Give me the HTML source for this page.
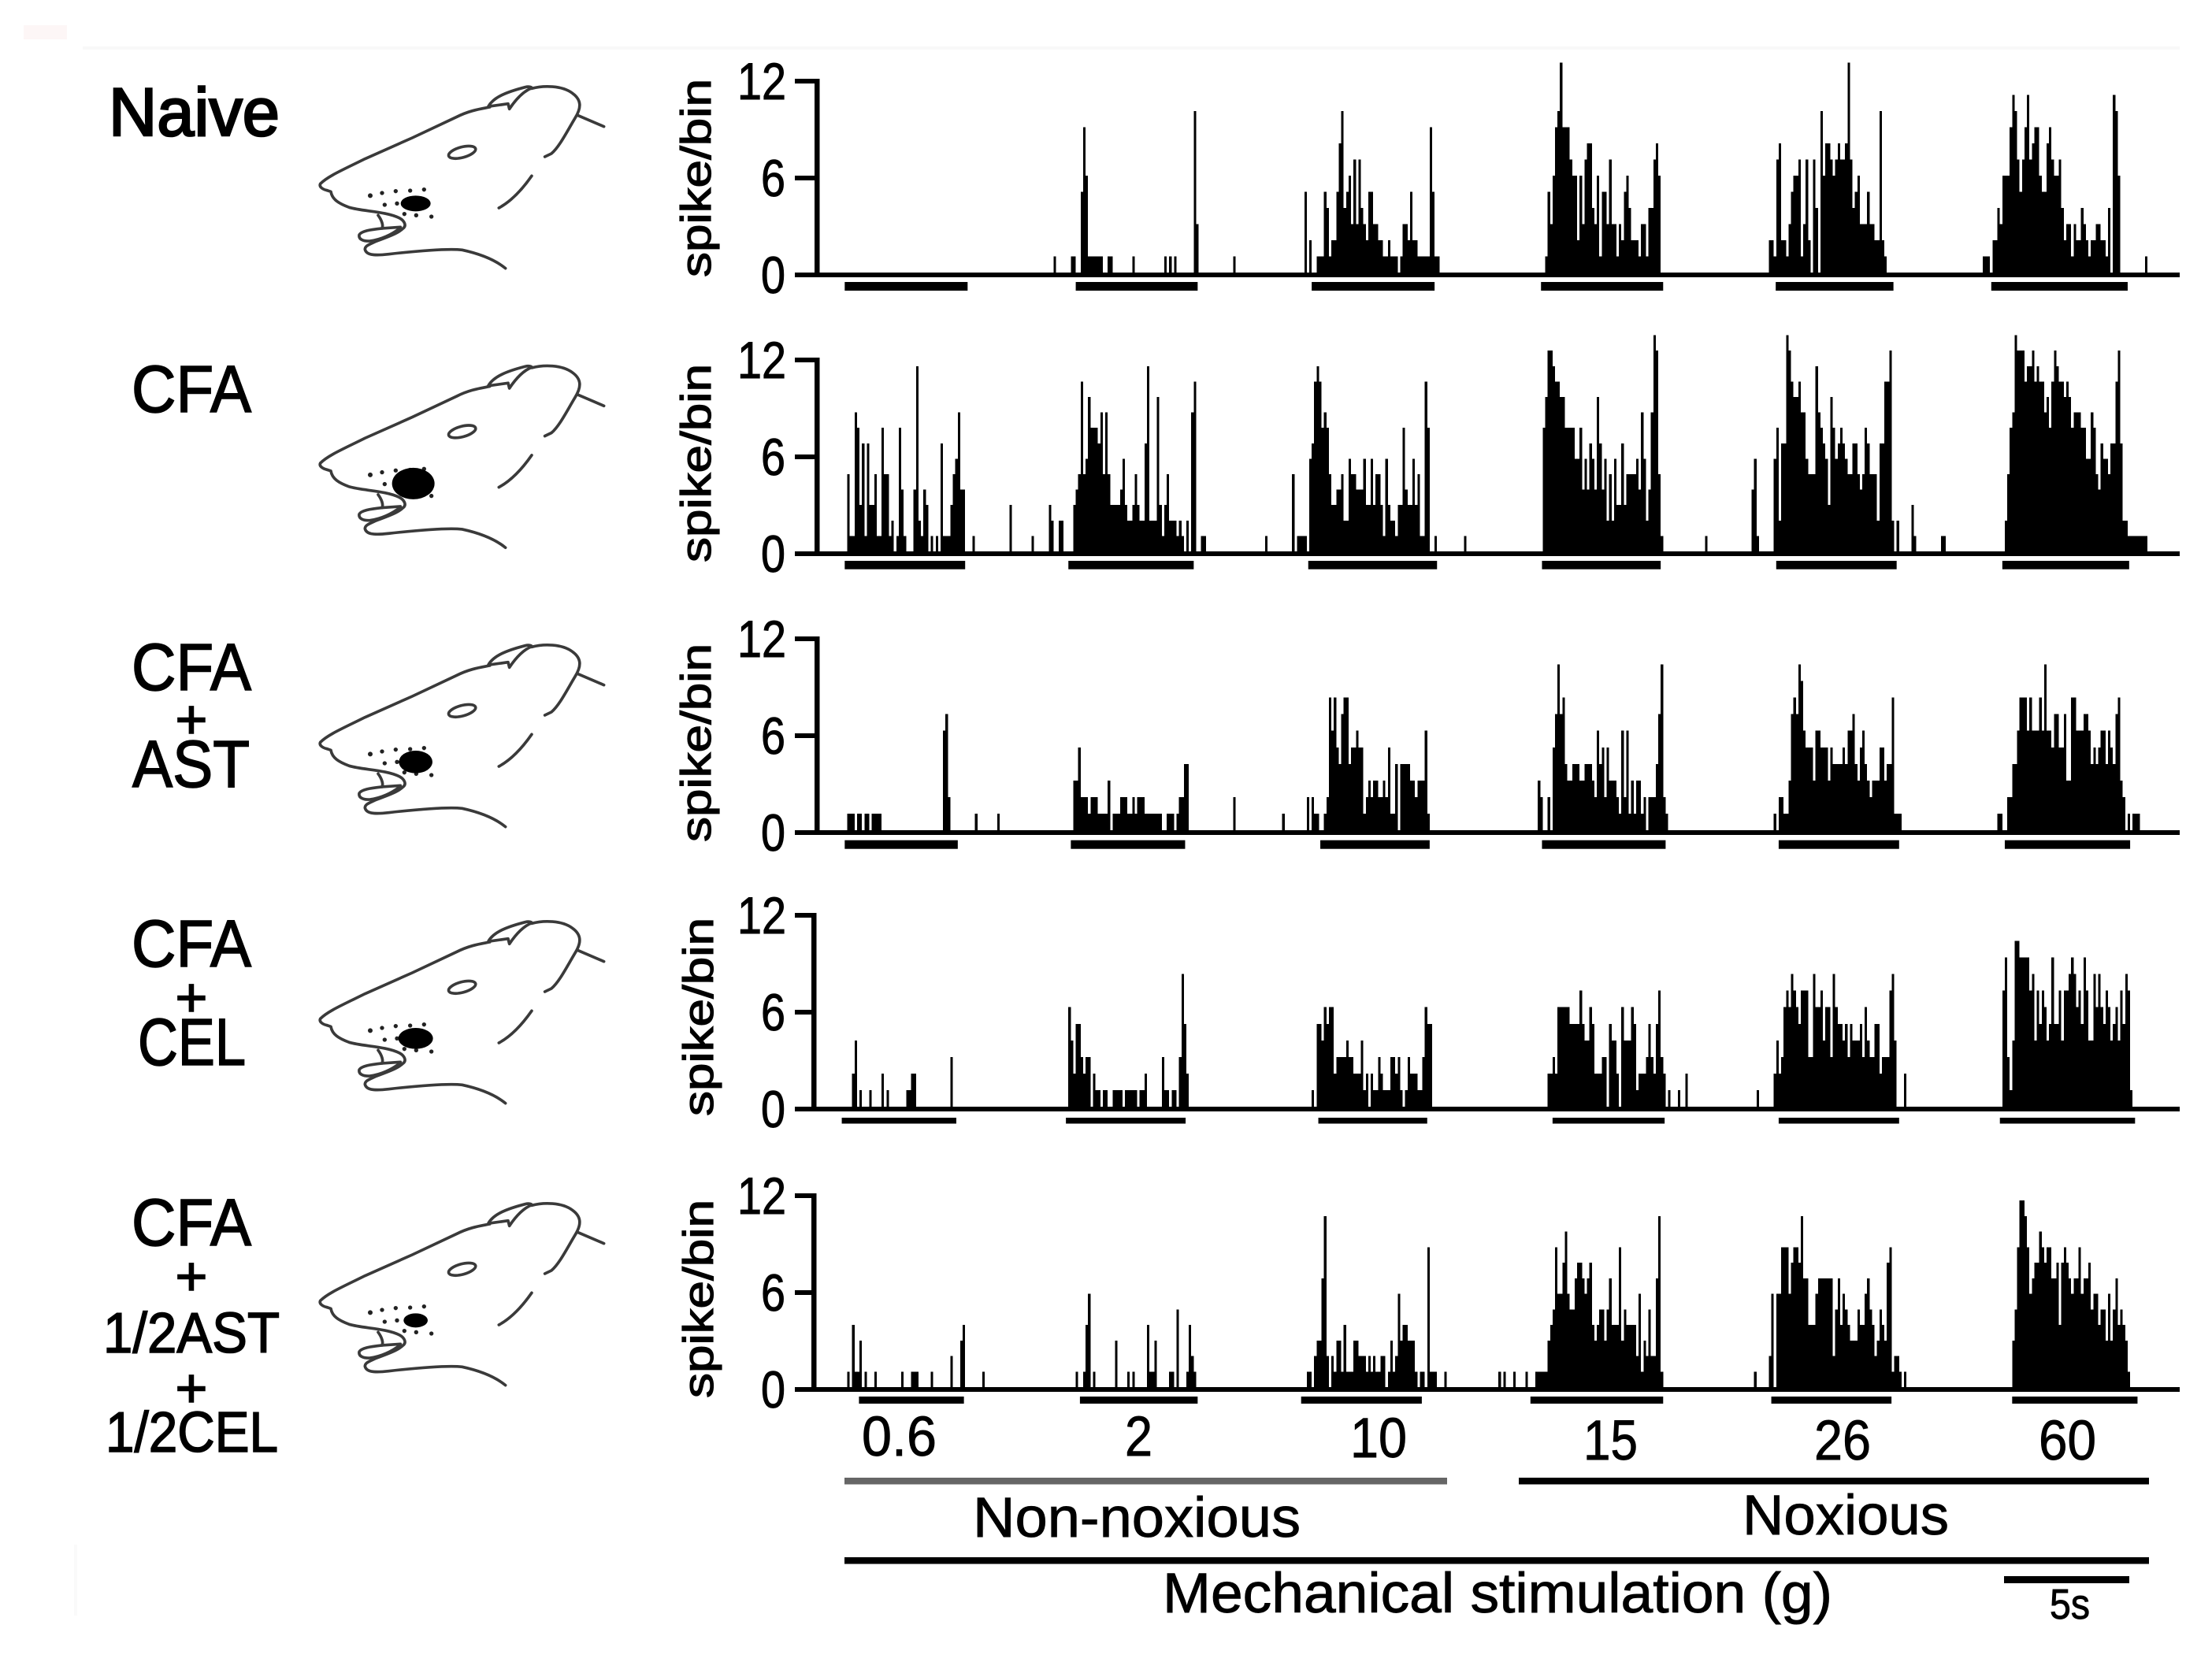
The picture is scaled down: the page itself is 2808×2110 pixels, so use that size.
<!DOCTYPE html>
<html lang="en">
<head>
<meta charset="utf-8">
<title>Spike histograms under mechanical stimulation</title>
<style>
html,body{margin:0;padding:0;background:#fff;}
svg{display:block;}
text{font-family:"Liberation Sans",sans-serif;fill:#000;}
</style>
</head>
<body>
<svg id="chart" xmlns="http://www.w3.org/2000/svg" width="2808" height="2110" viewBox="0 0 2808 2110">
<rect x="0" y="0" width="2808" height="2110" fill="#fff"/>
<rect x="105" y="59" width="2662" height="4" fill="#f8f8f8"/>
<rect x="30" y="32" width="55" height="18" fill="#fdf6f6"/>
<rect x="94" y="1961" width="4" height="90" fill="#fafafa"/>
<defs>
<g id="rat-head" fill="none" stroke="#3a3a3a" stroke-width="11" stroke-linecap="round" stroke-linejoin="round">
<path d="M105 485C85 480 75 470 80 460C110 430 170 405 250 365L430 285L600 205C650 180 690 175 725 168"/>
<path d="M720 165C740 130 790 110 860 92C875 88 885 92 885 95C860 105 830 130 800 175L795 155L725 165"/>
<path d="M885 97C930 85 1000 85 1040 115C1075 140 1075 170 1050 210C1020 260 990 320 960 345L935 357"/>
<path d="M1062 200L1160 242"/>
<path d="M885 430C850 480 810 525 760 552"/>
<ellipse cx="620" cy="340" rx="53" ry="20" transform="rotate(-15 620 340)"/>
<path d="M105 485L120 490C125 520 150 535 190 550C240 565 330 565 380 590C400 600 410 620 395 630C375 650 330 665 290 680C270 690 250 695 250 710C255 730 280 735 340 728C430 718 560 705 620 712C680 725 740 745 785 782"/>
<path d="M300 580C315 600 320 620 315 630L385 625"/>
<path d="M315 630C270 635 235 640 228 655C225 672 245 680 270 678C310 672 350 655 385 628"/>
<g fill="#222" stroke="none">
<circle cx="270" cy="505" r="9"/><circle cx="315" cy="495" r="8"/><circle cx="367" cy="488" r="8"/><circle cx="422" cy="486" r="8"/><circle cx="475" cy="482" r="8"/>
<circle cx="325" cy="540" r="8"/><circle cx="372" cy="535" r="8"/><circle cx="400" cy="575" r="8"/><circle cx="445" cy="580" r="8"/><circle cx="503" cy="585" r="8"/>
</g>
</g>
</defs>
</svg>
<script>
// ---------- categories and tick labels ----------
const forceLabels = ['0.6', '2', '10', '15', '26', '60'];
const yTicks = [0, 6, 12];
const groupNames = ['naive', 'cfa', 'cfa-ast', 'cfa-cel', 'cfa-half-ast-half-cel'];

// ---------- spike counts per bin; starts are the first bin index of each trace ----------
const naiveStarts = [11, 96, 198, 296, 387, 474];
const naive06 = [];
const naive2 = [1,0,0,0,0,0,0,1,1,0,0,5,9,6,1,1,1,1,1,1,0,0,1,1,0,0,0,0,0,0,0,0,1,0,0,0,0,0,0,0,0,0,0,0,0,1,0,1,0,1,0,0,0,0,0,0,0,10,3,0,0,0,0,0,0,0,0,0,0,0,0,0,0,1];
const naive10 = [5,0,2,0,0,1,1,1,5,4,1,2,2,5,8,10,4,5,6,3,7,3,7,4,3,2,5,5,3,3,2,2,1,1,2,1,1,1,0,1,3,3,2,5,2,2,1,1,1,1,1,9,5,1,1];
const naive15 = [1,5,3,6,9,10,13,9,9,9,7,6,6,2,6,3,7,8,8,4,3,6,1,5,5,3,7,3,3,1,3,2,5,6,4,2,2,2,1,3,3,1,4,4,7,8,6];
const naive26 = [2,2,1,7,8,2,2,1,3,5,6,6,7,1,3,7,2,0,7,4,0,10,6,8,8,7,6,7,8,7,7,8,13,7,4,5,6,3,3,3,5,3,3,2,2,10,2,1];
const naive60 = [1,1,1,0,2,2,4,3,6,6,6,9,11,10,7,5,7,9,11,7,8,9,9,6,5,5,8,9,7,6,6,7,4,2,3,3,1,3,2,2,4,3,2,1,2,2,3,3,2,2,1,4,0,11,10,6,0,0,0,0,0,0,0,0,0,0,1];

const cfaStarts = [12, 78, 182, 295, 361, 483];
const cfa06 = [5,1,1,9,8,3,7,1,7,3,3,5,1,1,8,5,5,1,2,0,1,8,4,1,0,0,0,4,12,2,1,4,3,0,1,0,1,0,7,1,1,1,3,5,6,9,4,4,0,0,0,1];
const cfa2 = [3,0,0,0,0,0,0,0,0,1,0,0,0,0,0,0,3,2,0,0,2,2,0,0,0,0,3,4,5,11,5,6,10,8,8,8,7,9,5,9,5,3,3,3,3,4,6,3,2,2,3,5,3,2,2,7,12,2,2,2,10,3,1,3,5,2,2,2,1,2,1,0,2,0,9,11,0,0,1,1];
const cfa10 = [1,0,0,0,0,0,0,0,0,0,0,5,0,1,1,1,1,0,6,7,11,12,11,8,9,8,5,3,3,4,4,5,2,2,6,5,5,4,4,4,6,3,3,6,3,5,5,3,1,6,3,2,2,1,3,3,8,4,3,3,6,3,5,1,1,11,8,0,0,1,0,0,0,0,0,0,0,0,0,0,0,1];
const cfa15 = [8,10,13,13,12,11,11,10,10,8,8,8,8,6,6,8,4,6,4,7,6,4,10,7,4,6,2,5,2,6,3,3,7,3,5,5,5,5,6,4,9,6,2,4,9,14,13,5,1];
const cfa26 = [1,0,0,0,0,0,0,0,0,0,0,0,0,0,0,0,0,0,0,4,6,1,0,0,0,0,0,0,6,8,2,7,7,14,13,11,10,10,11,9,9,6,5,5,5,12,9,8,7,6,3,10,8,6,7,8,7,6,5,5,7,7,5,4,5,8,7,5,5,5,2,7,7,11,11,13,2,0,2,0,0,0,0,0,3,1,0,0,0,0,0,0,0,0,0,0,1,1];
const cfa60 = [2,5,8,9,14,13,13,13,11,12,12,13,11,12,11,11,9,10,8,11,13,12,11,11,10,11,10,8,9,9,9,8,8,6,6,9,8,5,4,7,6,6,5,7,7,11,13,7,2,2,1,1,1,1,1,1,1,1];

const astStarts = [12, 104, 169, 293, 389, 480];
const ast06 = [1,1,1,0,1,1,0,1,1,0,1,1,1,1,0,0,0,0,0,0,0,0,0,0,0,0,0,0,0,0,0,0,0,0,0,0,0,0,0,6,7,2,0,0,0,0,0,0,0,0,0,0,1,0,0,0,0,0,0,0,0,1];
const ast2 = [3,3,5,2,2,2,1,2,2,2,1,1,1,1,3,0,1,1,1,2,2,2,1,1,2,1,2,2,2,1,1,1,1,1,1,1,0,0,1,1,1,0,1,2,2,4,4];
const ast10 = [2,0,0,0,0,0,0,0,0,0,0,0,0,0,0,0,0,0,0,0,1,0,0,0,0,0,0,0,0,0,2,0,2,1,1,0,0,1,2,8,6,8,5,4,7,8,8,4,5,5,6,5,5,1,2,3,2,3,3,2,2,3,2,5,1,1,4,0,4,4,4,4,3,3,2,3,3,3,6,1];
const ast15 = [3,2,0,0,2,0,5,7,10,7,8,4,3,3,4,4,4,3,3,4,4,4,3,2,6,4,5,2,5,3,3,3,2,1,6,2,6,1,3,1,3,3,1,2,0,2,2,2,4,7,10,2,1];
const ast26 = [1,0,2,2,1,1,3,7,8,7,10,9,6,5,5,5,3,6,6,5,5,5,3,5,4,4,4,4,5,4,6,6,7,4,3,5,6,4,3,2,3,3,3,5,5,3,4,4,8,1,1,1];
const ast60 = [1,1,0,0,2,2,4,4,6,8,8,8,6,8,6,6,6,8,6,10,6,6,5,7,7,5,5,7,3,3,8,8,6,6,6,7,7,6,4,5,4,5,6,6,4,6,5,4,7,8,3,2,0,1,0,1,1,1];

const celStarts = [14, 102, 201, 297, 382, 482];
const cel06 = [2,4,0,1,0,0,0,1,0,0,0,0,2,0,1,0,0,0,0,0,0,0,1,1,2,2,0,0,0,0,0,0,0,0,0,0,0,0,0,0,3];
const cel2 = [6,4,2,5,5,3,2,3,3,0,2,1,1,0,1,1,0,0,1,1,1,1,0,1,1,1,1,1,0,1,1,2,0,0,0,0,0,0,3,1,1,0,1,1,0,3,8,5,2];
const cel10 = [1,0,5,5,4,6,5,6,6,2,3,3,3,3,4,3,3,2,2,2,4,1,2,0,2,1,1,3,2,1,1,1,3,3,2,3,1,0,1,3,2,2,2,1,1,3,6,5,5];
const cel15 = [2,2,3,2,6,6,6,6,6,5,5,5,5,7,5,4,4,6,5,2,2,2,3,3,0,5,4,4,2,0,6,4,4,4,6,5,1,2,2,2,3,5,3,2,5,7,3,2,0,1,0,0,0,1,0,0,2];
const cel26 = [1,0,0,0,0,0,0,2,4,2,3,6,7,6,8,7,6,5,7,7,7,3,3,8,6,6,7,4,6,6,3,8,6,5,5,4,5,3,5,4,4,4,5,3,6,4,3,3,5,5,2,3,3,3,7,8,4,0,0,0,2];
const cel60 = [7,9,3,1,4,10,10,9,9,9,9,7,8,4,7,5,7,6,4,5,9,5,5,7,4,7,7,8,9,8,6,7,5,9,7,4,4,8,6,8,6,5,7,6,4,5,6,4,7,5,8,7,1];

const mixStarts = [12, 105, 199, 277, 381, 486];
const mix06 = [1,0,4,1,1,3,0,1,0,0,0,1,0,0,0,0,0,0,0,0,0,0,1,0,0,0,1,1,1,0,0,0,0,0,1,0,0,0,0,0,0,0,2,0,0,0,3,4,0,0,0,0,0,0,0,1];
const mix2 = [1,0,0,1,4,6,0,1,0,0,0,0,0,0,0,0,3,0,0,0,0,1,0,1,0,0,0,0,0,4,1,1,3,0,0,0,0,0,1,1,0,5,0,0,0,1,4,2,1];
const mix10 = [1,1,0,2,3,3,7,11,2,0,2,1,3,3,1,4,1,1,1,3,3,2,2,2,1,2,1,2,1,1,2,2,0,1,3,1,2,6,3,4,4,3,3,3,1,0,1,1,0,9,1,1,1,0,0,0,1];
const mix15 = [1,0,1,0,0,0,1,0,0,0,0,1,0,0,0,1,1,1,1,1,3,4,5,9,6,6,8,10,6,5,5,7,8,8,7,6,7,8,4,3,4,5,5,3,5,7,4,4,4,9,3,5,4,4,4,4,2,6,1,3,2,5,2,2,7,11,1];
const mix26 = [1,0,0,0,0,0,2,6,0,6,6,9,9,9,6,8,9,9,8,11,7,7,4,4,4,6,7,7,7,7,7,7,2,5,7,4,6,5,4,3,3,3,5,4,4,6,7,5,4,2,3,5,4,3,8,9,1,2,2,1,0,1];
const mix60 = [3,5,9,12,12,11,9,6,7,8,8,10,9,8,9,9,7,7,8,4,8,9,8,7,6,7,7,9,6,7,7,8,5,6,6,4,5,5,3,6,3,5,7,4,5,4,3,1];

// ---------- stimulus on/off times, in bins ----------
const naiveStim = [11, 61, 105, 154.6, 201, 251, 294.3, 344, 389.8, 437.7, 477.5, 533];
const cfaStim = [11, 60, 102, 153, 199.6, 252, 294.7, 343, 390, 439, 482, 533.6];
const astStim = [11, 57, 103, 149.5, 204.5, 249, 294.7, 345, 391, 440, 483, 534];
const celStim = [9.8, 56.4, 101, 149.7, 203.7, 248, 299, 344.6, 391, 440, 481, 536];
const mixStim = [16.8, 59.5, 106.7, 154.6, 196.7, 245.8, 290, 344, 388, 436.9, 486, 537];

const startSets = [naiveStarts, cfaStarts, astStarts, celStarts, mixStarts];
const traceSets = [
  [naive06, naive2, naive10, naive15, naive26, naive60],
  [cfa06, cfa2, cfa10, cfa15, cfa26, cfa60],
  [ast06, ast2, ast10, ast15, ast26, ast60],
  [cel06, cel2, cel10, cel15, cel26, cel60],
  [mix06, mix2, mix10, mix15, mix26, mix60]
];
const stimSets = [naiveStim, cfaStim, astStim, celStim, mixStim];

// ---------- layout (not data) ----------
const BIN_ZERO_X = 1038, BIN_W = 3.12, TICK_UNIT = 20.5, AXIS_RIGHT = 2767, TICK_LEFT = 1009;
const panelBase = [346, 700, 1054, 1405, 1761];
const barUnit = [20.5, 19.6, 21.05, 21.05, 19.75];
const panelAxisX = [1034, 1034, 1034, 1030, 1030];
const panelTitleY = [226, 588, 943, 1291, 1649];
const stimOffset = [12, 12, 12.7, 14, 12];
const stimThick = [11, 10.7, 11, 7.5, 9];
const headDy = [0, 354.6, 709, 1060, 1418];
const spotRx = [57, 81, 64, 66, 46];
const spotRy = [30, 60, 43, 40, 27];

const SVG_NS = 'http://www.w3.org/2000/svg';
const svg = document.getElementById('chart');
function xScale(bin) { return BIN_ZERO_X + bin * BIN_W; }
function yScale(panel, value) { return panelBase[panel] - value * barUnit[panel]; }
function tickY(panel, value) { return panelBase[panel] - value * TICK_UNIT; }
function make(tag, props, parent) {
  const n = document.createElementNS(SVG_NS, tag);
  for (const k in props) n.setAttribute(k, props[k]);
  (parent || svg).appendChild(n);
  return n;
}
function label(str, props, parent) {
  const t = make('text', props, parent);
  t.textContent = str;
  return t;
}

groupNames.forEach(function (group, p) {
  const g = make('g', {});
  
  

  // head drawing
  const head = make('g', { transform: 'translate(380 ' + (80 + headDy[p]) + ') scale(0.3333)' }, g);
  
  
  make('use', { href: '#rat-head' }, head);
  const spot = make('ellipse', { cx: p === 1 ? 434 : 443, cy: p === 1 ? 538 : 535, rx: spotRx[p], ry: spotRy[p], fill: '#000' }, head);
  
  

  // histogram bars
  const bars = make('g', { 'shape-rendering': 'crispEdges', fill: '#000' }, g);
  
  
  traceSets[p].forEach(function (trace, t) {
    trace.forEach(function (v, i) {
      if (!v) return;
      const bin = startSets[p][t] + i;
      const bar = make('rect', { x: xScale(bin), y: yScale(p, v), width: BIN_W, height: v * barUnit[p] + 1 }, bars);
      
      
    });
    const on = stimSets[p][t * 2], off = stimSets[p][t * 2 + 1];
    const stim = make('rect', { x: xScale(on), y: panelBase[p] + stimOffset[p], width: xScale(off) - xScale(on), height: stimThick[p] }, g);
    
    
  });

  // axes
  const baseY = panelBase[p];
  const xAxis = make('rect', { x: TICK_LEFT, y: baseY, width: AXIS_RIGHT - TICK_LEFT, height: 6, fill: '#000' }, g);
  
  
  const yAxis = make('rect', { x: panelAxisX[p], y: tickY(p, 12), width: 6.5, height: baseY - tickY(p, 12), fill: '#000' }, g);
  
  
  yTicks.forEach(function (v) {
    const tick = make('rect', { x: TICK_LEFT, y: tickY(p, v), width: panelAxisX[p] - TICK_LEFT + 2, height: 6, fill: '#000' }, g);
    
    
    const s = String(v);
    const tl = label(s, { x: s.length > 1 ? 936 : 966, y: tickY(p, v) + 26, 'font-size': 66, stroke: '#000', 'stroke-width': 1, textLength: s.length > 1 ? 62 : 31, lengthAdjust: 'spacingAndGlyphs' }, g);
    
    
  });
  const title = label('spike/bin', { transform: 'translate(' + (p > 2 ? 905 : 902) + ' ' + panelTitleY[p] + ') rotate(-90)', 'text-anchor': 'middle', 'font-size': 54, stroke: '#000', 'stroke-width': 1.2, textLength: 252, lengthAdjust: 'spacingAndGlyphs' }, g);
  
  
});
</script>
<svg xmlns="http://www.w3.org/2000/svg" width="2808" height="2110" viewBox="0 0 2808 2110" style="position:absolute;left:0;top:0;pointer-events:none">
<g stroke="#000" stroke-width="1.6">
<text x="138" y="172" font-size="86" stroke-width="2.6" textLength="217" lengthAdjust="spacingAndGlyphs">Naive</text>
<text x="167" y="523" font-size="84" textLength="152" lengthAdjust="spacingAndGlyphs">CFA</text>
<text x="167" y="876" font-size="84" textLength="152" lengthAdjust="spacingAndGlyphs">CFA</text>
<text x="243" y="937" font-size="70" text-anchor="middle">+</text>
<text x="168" y="999" font-size="84" textLength="149" lengthAdjust="spacingAndGlyphs">AST</text>
<text x="167" y="1227" font-size="84" textLength="152" lengthAdjust="spacingAndGlyphs">CFA</text>
<text x="243" y="1290" font-size="70" text-anchor="middle">+</text>
<text x="175" y="1352" font-size="84" textLength="137" lengthAdjust="spacingAndGlyphs">CEL</text>
<text x="167" y="1581" font-size="84" textLength="152" lengthAdjust="spacingAndGlyphs">CFA</text>
<text x="243" y="1644" font-size="70" text-anchor="middle">+</text>
<text x="131" y="1717" font-size="72" textLength="224" lengthAdjust="spacingAndGlyphs">1/2AST</text>
<text x="243" y="1786" font-size="70" text-anchor="middle">+</text>
<text x="134" y="1843" font-size="72" textLength="219" lengthAdjust="spacingAndGlyphs">1/2CEL</text>
</g>
<g stroke="#000" stroke-width="0.9">
<text x="1094" y="1848" font-size="71" textLength="95" lengthAdjust="spacingAndGlyphs">0.6</text>
<text x="1428" y="1848" font-size="71" textLength="35" lengthAdjust="spacingAndGlyphs">2</text>
<text x="1714" y="1850" font-size="71" textLength="72" lengthAdjust="spacingAndGlyphs">10</text>
<text x="2010" y="1853" font-size="71" textLength="69" lengthAdjust="spacingAndGlyphs">15</text>
<text x="2303" y="1853" font-size="71" textLength="72" lengthAdjust="spacingAndGlyphs">26</text>
<text x="2588" y="1853" font-size="71" textLength="73" lengthAdjust="spacingAndGlyphs">60</text>
<text x="1235" y="1951" font-size="71" textLength="416" lengthAdjust="spacingAndGlyphs">Non-noxious</text>
<text x="2212" y="1948" font-size="71" textLength="262" lengthAdjust="spacingAndGlyphs">Noxious</text>
<text x="1476" y="2047" font-size="71" textLength="850" lengthAdjust="spacingAndGlyphs">Mechanical stimulation (g)</text>
<text x="2602" y="2055" font-size="54" textLength="51" lengthAdjust="spacingAndGlyphs">5s</text>
</g>
<rect x="1072" y="1876" width="765" height="8.5" fill="#666"/>
<rect x="1928" y="1876" width="800" height="8.5" fill="#000"/>
<rect x="1072" y="1977" width="1656" height="8.5" fill="#000"/>
<rect x="2544" y="2001" width="159" height="9" fill="#000"/>
</svg>
</body>
</html>
